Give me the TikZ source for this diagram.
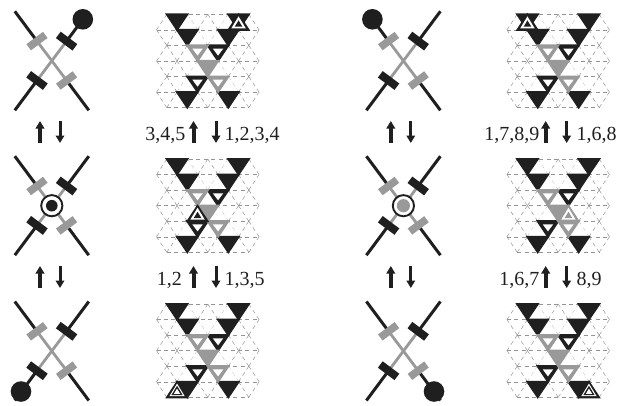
\documentclass[tikz,border=0pt]{standalone}
\usepackage{fontspec}
\setmainfont{Liberation Serif}
\usetikzlibrary{arrows.meta,calc}
\definecolor{gr}{gray}{0.6}
\definecolor{bl}{gray}{0.12}
\tikzset{
  lab/.style={font=\fontsize{20}{20}\selectfont,text=bl,inner sep=0pt,anchor=base},
  uparr/.style={-{Triangle[length=7.5pt,width=8.5pt]},line width=4pt,draw=bl},
  dnarr/.style={-{Triangle[length=7.5pt,width=8.5pt]},line width=3pt,draw=bl},
  arm/.style={draw=bl,line width=3pt},
  inner/.style={draw=gr,line width=2.8pt},
  bbar/.style={draw=bl,line width=8pt},
  gbar/.style={draw=gr,line width=7.6pt},
  gridl/.style={draw=black!42,line width=0.5pt,dash pattern=on 4pt off 3.4pt},
  cellb/.style={fill=bl},
  cellg/.style={fill=gr}
}
\newcommand{\crossfig}[2]{%
\begin{scope}[shift={(#1,#2)}]
  \coordinate (c) at (0,0);
  \coordinate (tl) at (-14.8,-19.7); \coordinate (tr) at (14.8,-19.7);
  \coordinate (bl) at (-14.8,19.7); \coordinate (br) at (14.8,19.7);
  \draw[inner] (tl)--(br);
  \draw[inner] (tr)--(bl);
  \draw[arm] (tl)--(-37,-49.5);
  \draw[arm] (tr)--(37,-49.5);
  \draw[arm] (bl)--(-37,49.5);
  \draw[arm] (br)--(37,49.5);
  \draw[gbar] ($(tl)+(-8.3,6.2)$)--($(tl)+(8.3,-6.2)$);
  \draw[gbar] ($(br)+(-8.3,6.2)$)--($(br)+(8.3,-6.2)$);
  \draw[bbar] ($(tr)+(-8.3,-6.2)$)--($(tr)+(8.3,6.2)$);
  \draw[bbar] ($(bl)+(-8.3,-6.2)$)--($(bl)+(8.3,6.2)$);
\end{scope}}
\newcommand{\ball}[2]{\fill[bl] (#1,#2) circle[radius=10.3];}
\newcommand{\dn}[3]{%
  \fill[#1] (\xa+#2*\ax-\ax-1.9,\ya+#3*\hh-1) -- (\xa+#2*\ax+\ax+1.9,\ya+#3*\hh-1) -- (\xa+#2*\ax,\ya+#3*\hh+\hh+1.6) -- cycle;}
\newcommand{\dnw}[3]{%
  \dn{#1}{#2}{#3}
  \fill[white] (\xa+#2*\ax-5.2,\ya+#3*\hh+3.2) -- (\xa+#2*\ax+5.2,\ya+#3*\hh+3.2) -- (\xa+#2*\ax,\ya+#3*\hh+10.2) -- cycle;}
\newcommand{\tri}[5]{%
  \fill[#1] (\xa+#2*\ax-#4,\ya+#3*\hh-#5) -- (\xa+#2*\ax+#4,\ya+#3*\hh-#5) -- (\xa+#2*\ax,\ya+#3*\hh-#5-#4*1.65) -- cycle;}
\newcommand{\ringa}[3]{%
  \fill[#1] (\xa+#2*\ax-11.8,\ya+#3*\hh+1) -- (\xa+#2*\ax+11.8,\ya+#3*\hh+1) -- (\xa+#2*\ax,\ya+#3*\hh-\hh-1.4) -- cycle;
  \tri{white}{#2}{#3}{7.2}{1.6}
  \tri{#1}{#2}{#3}{3.8}{3.2}}
\newcommand{\ringb}[3]{%
  \fill[#1] (\xa+#2*\ax-11.8,\ya+#3*\hh+1) -- (\xa+#2*\ax+11.8,\ya+#3*\hh+1) -- (\xa+#2*\ax,\ya+#3*\hh-\hh-1.4) -- cycle;
  \tri{white}{#2}{#3}{7.6}{1.2}
  \tri{#1}{#2}{#3}{5.6}{2.3}
  \tri{white}{#2}{#3}{3.2}{3.4}}
\newcommand{\panel}[3]{%
\begin{scope}
  \def\ax{10.25}\def\hh{15.55}
  \def\xa{#1}\def\ya{#2}
  \foreach \r in {0,2,4,6}{\draw[gridl] (\xa-4*\ax,\ya+\r*\hh)--(\xa+4*\ax,\ya+\r*\hh);}
  \foreach \r in {1,3,5}{\draw[gridl] (\xa-5*\ax,\ya+\r*\hh)--(\xa+5*\ax,\ya+\r*\hh);}
  \foreach \r in {0,2,4}{\foreach \k in {-4,-2,0,2,4}{
     \draw[gridl] (\xa+\k*\ax,\ya+\r*\hh)--(\xa+\k*\ax-\ax,\ya+\r*\hh+\hh);
     \draw[gridl] (\xa+\k*\ax,\ya+\r*\hh)--(\xa+\k*\ax+\ax,\ya+\r*\hh+\hh);
     \draw[gridl] (\xa+\k*\ax,\ya+\r*\hh+2*\hh)--(\xa+\k*\ax-\ax,\ya+\r*\hh+\hh);
     \draw[gridl] (\xa+\k*\ax,\ya+\r*\hh+2*\hh)--(\xa+\k*\ax+\ax,\ya+\r*\hh+\hh);
  }}
  \foreach \k/\r in {-2/0,2/0,-1/1,1/1,0/2,1/3,-1/3,0/4,2/4,-2/4}{
    \fill[white] (\xa+\k*\ax,\ya+\r*\hh)--(\xa+\k*\ax-\ax,\ya+\r*\hh+\hh)--(\xa+\k*\ax+\ax,\ya+\r*\hh+\hh)--cycle;}
  \dn{cellb}{-3}{0}\dn{cellb}{-2}{1}
  \dn{cellb}{3}{0}\dn{cellb}{2}{1}
  \dn{cellb}{-2}{5}\dn{cellb}{2}{5}
  \dnw{cellb}{-1}{4}
  \dnw{cellb}{1}{2}
  \dnw{cellg}{-1}{2}
  \dn{cellg}{0}{3}
  \dnw{cellg}{1}{4}
  #3
\end{scope}}
\begin{document}
\begin{tikzpicture}[x=1pt,y=-1pt]
\useasboundingbox (0,0) rectangle (627,405);
\crossfig{51.8}{60.8}\ball{82.8}{19.3}
\crossfig{51.8}{205.7}
\fill[white] (51.8,205.7) circle[radius=11];
\draw[bl,line width=1.9pt] (51.8,205.7) circle[radius=10.6];
\fill[bl] (51.8,205.7) circle[radius=5.8];
\crossfig{51.8}{351}\ball{21}{391.5}
\crossfig{403.4}{60.8}\ball{372.4}{19.3}
\crossfig{403.4}{205.7}
\fill[white] (403.4,205.7) circle[radius=11];
\draw[bl,line width=1.9pt] (403.4,205.7) circle[radius=10.6];
\fill[gr] (403.4,205.7) circle[radius=6.6];
\crossfig{403.4}{351}\ball{434}{391.5}
\panel{207.8}{14.3}{\ringa{bl}{3}{1}}
\panel{207.8}{159}{\ringa{bl}{-1}{4}}
\panel{207.8}{304}{\ringb{bl}{-3}{6}}
\panel{558.2}{14.3}{\ringa{bl}{-3}{1}}
\panel{558.2}{159}{\ringa{gr}{1}{4}}
\panel{558.2}{304}{\ringb{bl}{3}{6}}
\foreach \yy in {0,145}{
  \draw[uparr] (40,143+\yy)--(40,121+\yy);
  \draw[dnarr] (60,121+\yy)--(60,143+\yy);
  \draw[uparr] (193.5,143+\yy)--(193.5,121+\yy);
  \draw[dnarr] (216,121+\yy)--(216,143+\yy);
  \draw[uparr] (390.8,143+\yy)--(390.8,121+\yy);
  \draw[dnarr] (410.8,121+\yy)--(410.8,143+\yy);
  \draw[uparr] (545.7,143+\yy)--(545.7,121+\yy);
  \draw[dnarr] (566.7,121+\yy)--(566.7,143+\yy);
}
\node[lab,anchor=base east] (t1) at (185.5,140) {3,4,5};
\node[lab,anchor=base west] (t2) at (224.5,140) {1,2,3,4};
\node[lab,anchor=base east] (t3) at (539.5,140) {1,7,8,9};
\node[lab,anchor=base west] (t4) at (576.5,140) {1,6,8};
\node[lab,anchor=base east] (t5) at (182,285) {1,2};
\node[lab,anchor=base west] (t6) at (224.5,285) {1,3,5};
\node[lab,anchor=base east] (t7) at (539.5,285) {1,6,7};
\node[lab,anchor=base west] (t8) at (576.5,285) {8,9};
\end{tikzpicture}
\end{document}
